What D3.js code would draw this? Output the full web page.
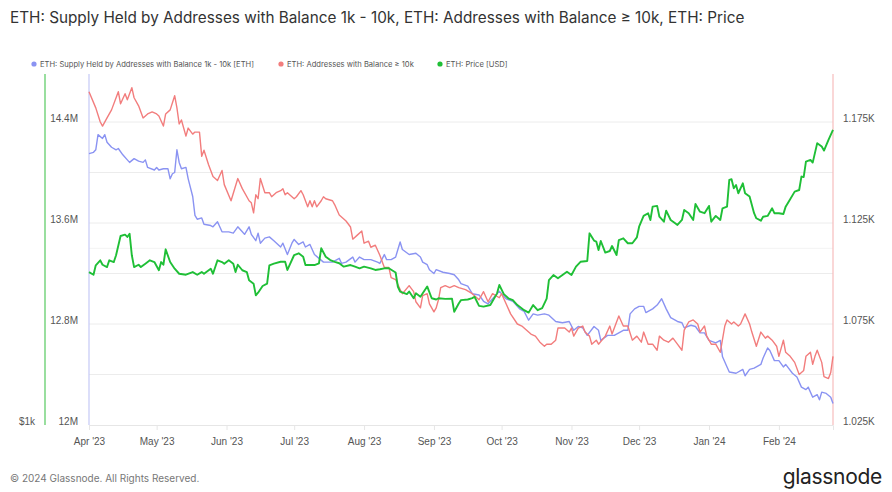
<!DOCTYPE html>
<html>
<head>
<meta charset="utf-8">
<script src="https://cdn.jsdelivr.net/npm/d3@7"></script>
<style>
	body { margin: 0; background: #fff; }
	svg { font-family: Inter, 'Open Sans', sans-serif; }
	.tick text { fill: #555; font-size: 10px; }
</style>
</head>
<body>
<div id="chart"></div>
<script>
// supply held by 1k-10k addresses, millions of ETH
const supply1k10k = [
	['2023-04-01', 14.15], ['2023-04-03', 14.16], ['2023-04-04', 14.18], ['2023-04-05', 14.30], ['2023-04-07', 14.27],
	['2023-04-08', 14.30], ['2023-04-09', 14.24], ['2023-04-11', 14.20], ['2023-04-13', 14.18], ['2023-04-14', 14.19],
	['2023-04-16', 14.14], ['2023-04-18', 14.10], ['2023-04-19', 14.08], ['2023-04-21', 14.11], ['2023-04-23', 14.09],
	['2023-04-25', 14.08], ['2023-04-26', 14.10], ['2023-04-27', 14.04], ['2023-04-30', 14.02], ['2023-05-01', 14.04],
	['2023-05-02', 14.02], ['2023-05-04', 14.03], ['2023-05-06', 14.03], ['2023-05-07', 13.95], ['2023-05-08', 13.99],
	['2023-05-09', 14.00], ['2023-05-10', 14.18], ['2023-05-11', 14.08], ['2023-05-12', 14.03], ['2023-05-14', 14.04],
	['2023-05-15', 13.95], ['2023-05-17', 13.81], ['2023-05-18', 13.66], ['2023-05-19', 13.63], ['2023-05-21', 13.64],
	['2023-05-22', 13.59], ['2023-05-25', 13.58], ['2023-05-26', 13.57], ['2023-05-28', 13.61], ['2023-05-30', 13.53],
	['2023-06-02', 13.53], ['2023-06-04', 13.52], ['2023-06-06', 13.57], ['2023-06-08', 13.53], ['2023-06-09', 13.51],
	['2023-06-11', 13.57], ['2023-06-12', 13.51], ['2023-06-14', 13.46], ['2023-06-15', 13.52], ['2023-06-16', 13.44],
	['2023-06-18', 13.48], ['2023-06-20', 13.49], ['2023-06-22', 13.46], ['2023-06-25', 13.41], ['2023-06-26', 13.44],
	['2023-06-28', 13.35], ['2023-06-30', 13.44], ['2023-07-01', 13.47], ['2023-07-03', 13.43], ['2023-07-05', 13.45],
	['2023-07-06', 13.41], ['2023-07-08', 13.43], ['2023-07-10', 13.35], ['2023-07-12', 13.32], ['2023-07-14', 13.29],
	['2023-07-16', 13.29], ['2023-07-18', 13.29], ['2023-07-21', 13.32], ['2023-07-22', 13.28], ['2023-07-24', 13.29],
	['2023-07-27', 13.33], ['2023-07-28', 13.29], ['2023-07-30', 13.33], ['2023-08-01', 13.31], ['2023-08-04', 13.31],
	['2023-08-07', 13.29], ['2023-08-08', 13.28], ['2023-08-10', 13.35], ['2023-08-11', 13.31], ['2023-08-13', 13.31],
	['2023-08-15', 13.33], ['2023-08-17', 13.45], ['2023-08-18', 13.39], ['2023-08-21', 13.35], ['2023-08-24', 13.36],
	['2023-08-26', 13.33], ['2023-08-27', 13.29], ['2023-08-29', 13.27], ['2023-08-30', 13.23], ['2023-09-01', 13.20],
	['2023-09-02', 13.23], ['2023-09-05', 13.21], ['2023-09-08', 13.20], ['2023-09-10', 13.19], ['2023-09-12', 13.15],
	['2023-09-13', 13.12], ['2023-09-16', 13.10], ['2023-09-18', 13.04], ['2023-09-21', 13.03], ['2023-09-23', 12.98],
	['2023-09-25', 12.96], ['2023-09-28', 13.02], ['2023-09-30', 13.06], ['2023-10-03', 13.00], ['2023-10-06', 12.98],
	['2023-10-09', 12.92], ['2023-10-11', 12.90], ['2023-10-13', 12.83], ['2023-10-15', 12.88], ['2023-10-17', 12.87],
	['2023-10-20', 12.88], ['2023-10-22', 12.87], ['2023-10-25', 12.82], ['2023-10-28', 12.81], ['2023-10-31', 12.82],
	['2023-11-02', 12.75], ['2023-11-04', 12.78], ['2023-11-06', 12.77], ['2023-11-08', 12.71], ['2023-11-11', 12.78],
	['2023-11-13', 12.75], ['2023-11-14', 12.67], ['2023-11-17', 12.71], ['2023-11-20', 12.71], ['2023-11-22', 12.73],
	['2023-11-24', 12.75], ['2023-11-26', 12.75], ['2023-11-27', 12.88], ['2023-11-29', 12.92], ['2023-12-01', 12.94],
	['2023-12-03', 12.94], ['2023-12-04', 12.89], ['2023-12-07', 12.92], ['2023-12-09', 12.95], ['2023-12-11', 13.00],
	['2023-12-13', 12.92], ['2023-12-15', 12.85], ['2023-12-18', 12.82], ['2023-12-20', 12.81], ['2023-12-21', 12.77],
	['2023-12-24', 12.79], ['2023-12-26', 12.78], ['2023-12-28', 12.73], ['2023-12-30', 12.73], ['2024-01-01', 12.67],
	['2024-01-04', 12.65], ['2024-01-06', 12.67], ['2024-01-07', 12.54], ['2024-01-09', 12.46], ['2024-01-10', 12.42],
	['2024-01-13', 12.41], ['2024-01-16', 12.44], ['2024-01-17', 12.39], ['2024-01-19', 12.44], ['2024-01-21', 12.45],
	['2024-01-24', 12.48], ['2024-01-25', 12.53], ['2024-01-27', 12.61], ['2024-01-28', 12.59], ['2024-01-30', 12.51],
	['2024-02-01', 12.51], ['2024-02-03', 12.46], ['2024-02-04', 12.48], ['2024-02-07', 12.41], ['2024-02-09', 12.38],
	['2024-02-11', 12.30], ['2024-02-13', 12.28], ['2024-02-14', 12.30], ['2024-02-16', 12.22], ['2024-02-18', 12.24],
	['2024-02-19', 12.20], ['2024-02-20', 12.26], ['2024-02-22', 12.25], ['2024-02-24', 12.22], ['2024-02-25', 12.17]
]

// number of addresses holding >= 10k ETH
const addresses10k = [
	['2023-04-01', 1190], ['2023-04-04', 1182], ['2023-04-06', 1175], ['2023-04-07', 1173], ['2023-04-09', 1177],
	['2023-04-11', 1181], ['2023-04-14', 1190], ['2023-04-15', 1184], ['2023-04-17', 1189], ['2023-04-18', 1186],
	['2023-04-20', 1192], ['2023-04-21', 1187], ['2023-04-23', 1183], ['2023-04-25', 1177], ['2023-04-27', 1179],
	['2023-04-29', 1180], ['2023-05-01', 1179], ['2023-05-02', 1178], ['2023-05-04', 1173], ['2023-05-05', 1179],
	['2023-05-07', 1181], ['2023-05-09', 1188], ['2023-05-10', 1182], ['2023-05-11', 1174], ['2023-05-12', 1176],
	['2023-05-14', 1168], ['2023-05-15', 1172], ['2023-05-17', 1169], ['2023-05-18', 1170], ['2023-05-20', 1170],
	['2023-05-21', 1158], ['2023-05-22', 1161], ['2023-05-24', 1154], ['2023-05-26', 1148], ['2023-05-28', 1146],
	['2023-05-30', 1151], ['2023-05-31', 1144], ['2023-06-03', 1136], ['2023-06-06', 1147], ['2023-06-08', 1142],
	['2023-06-11', 1136], ['2023-06-12', 1135], ['2023-06-13', 1130], ['2023-06-14', 1139], ['2023-06-15', 1137],
	['2023-06-16', 1147], ['2023-06-18', 1140], ['2023-06-20', 1140], ['2023-06-21', 1138], ['2023-06-23', 1140],
	['2023-06-25', 1141], ['2023-06-26', 1142], ['2023-06-27', 1139], ['2023-06-28', 1140], ['2023-07-01', 1137],
	['2023-07-02', 1138], ['2023-07-04', 1141], ['2023-07-05', 1139], ['2023-07-07', 1133], ['2023-07-08', 1136],
	['2023-07-09', 1133], ['2023-07-10', 1136], ['2023-07-11', 1133], ['2023-07-13', 1136], ['2023-07-14', 1138],
	['2023-07-15', 1137], ['2023-07-18', 1136], ['2023-07-19', 1134], ['2023-07-21', 1129], ['2023-07-23', 1127],
	['2023-07-24', 1126], ['2023-07-26', 1123], ['2023-07-27', 1117], ['2023-07-29', 1119], ['2023-07-31', 1121],
	['2023-08-01', 1115], ['2023-08-03', 1116], ['2023-08-04', 1113], ['2023-08-06', 1114], ['2023-08-08', 1109],
	['2023-08-10', 1103], ['2023-08-12', 1103], ['2023-08-13', 1098], ['2023-08-15', 1097], ['2023-08-17', 1092],
	['2023-08-18', 1090], ['2023-08-21', 1094], ['2023-08-23', 1091], ['2023-08-24', 1086], ['2023-08-26', 1083],
	['2023-08-27', 1089], ['2023-08-29', 1090], ['2023-08-30', 1085], ['2023-09-01', 1081], ['2023-09-02', 1083],
	['2023-09-03', 1087], ['2023-09-04', 1093], ['2023-09-06', 1094], ['2023-09-08', 1093], ['2023-09-10', 1094],
	['2023-09-12', 1093], ['2023-09-15', 1092], ['2023-09-18', 1090], ['2023-09-21', 1087], ['2023-09-23', 1091],
	['2023-09-25', 1086], ['2023-09-27', 1090], ['2023-09-30', 1088], ['2023-10-01', 1090], ['2023-10-03', 1085],
	['2023-10-05', 1080], ['2023-10-08', 1075], ['2023-10-10', 1074], ['2023-10-12', 1072], ['2023-10-14', 1070],
	['2023-10-16', 1069], ['2023-10-18', 1066], ['2023-10-20', 1064], ['2023-10-21', 1065], ['2023-10-23', 1065],
	['2023-10-25', 1067], ['2023-10-26', 1073], ['2023-10-29', 1073], ['2023-10-31', 1071], ['2023-11-01', 1073],
	['2023-11-02', 1069], ['2023-11-04', 1073], ['2023-11-06', 1074], ['2023-11-07', 1071], ['2023-11-09', 1069],
	['2023-11-10', 1065], ['2023-11-12', 1067], ['2023-11-13', 1065], ['2023-11-16', 1069], ['2023-11-18', 1074],
	['2023-11-19', 1070], ['2023-11-22', 1079], ['2023-11-24', 1074], ['2023-11-26', 1074], ['2023-11-28', 1067],
	['2023-11-30', 1069], ['2023-12-02', 1066], ['2023-12-03', 1071], ['2023-12-05', 1065], ['2023-12-07', 1065],
	['2023-12-09', 1062], ['2023-12-10', 1069], ['2023-12-12', 1067], ['2023-12-14', 1066], ['2023-12-16', 1068],
	['2023-12-18', 1065], ['2023-12-20', 1062], ['2023-12-21', 1072], ['2023-12-23', 1076], ['2023-12-25', 1077],
	['2023-12-27', 1075], ['2023-12-28', 1071], ['2023-12-30', 1074], ['2023-12-31', 1069], ['2024-01-02', 1065],
	['2024-01-04', 1065], ['2024-01-06', 1061], ['2024-01-08', 1074], ['2024-01-09', 1077], ['2024-01-11', 1075],
	['2024-01-12', 1076], ['2024-01-14', 1074], ['2024-01-15', 1075], ['2024-01-17', 1080], ['2024-01-19', 1075],
	['2024-01-20', 1071], ['2024-01-22', 1064], ['2024-01-24', 1071], ['2024-01-26', 1068], ['2024-01-27', 1069],
	['2024-01-29', 1067], ['2024-01-31', 1064], ['2024-02-01', 1059], ['2024-02-03', 1067], ['2024-02-04', 1061],
	['2024-02-06', 1059], ['2024-02-08', 1056], ['2024-02-10', 1050], ['2024-02-12', 1052], ['2024-02-13', 1059],
	['2024-02-15', 1061], ['2024-02-16', 1055], ['2024-02-17', 1059], ['2024-02-18', 1062], ['2024-02-20', 1056],
	['2024-02-21', 1049], ['2024-02-23', 1048], ['2024-02-24', 1051], ['2024-02-25', 1059]
]

// ETH price, USD
const ethPrice = [
	['2023-04-01', 1822], ['2023-04-03', 1803], ['2023-04-04', 1871], ['2023-04-06', 1908], ['2023-04-07', 1875],
	['2023-04-09', 1858], ['2023-04-10', 1908], ['2023-04-12', 1895], ['2023-04-13', 1946], ['2023-04-15', 2099],
	['2023-04-17', 2110], ['2023-04-18', 2091], ['2023-04-19', 2118], ['2023-04-20', 1946], ['2023-04-21', 1858],
	['2023-04-23', 1875], ['2023-04-24', 1858], ['2023-04-26', 1883], ['2023-04-28', 1908], ['2023-04-30', 1895],
	['2023-05-02', 1835], ['2023-05-03', 1895], ['2023-05-04', 1875], ['2023-05-05', 1992], ['2023-05-07', 1895],
	['2023-05-09', 1846], ['2023-05-11', 1810], ['2023-05-14', 1803], ['2023-05-17', 1822], ['2023-05-19', 1803],
	['2023-05-21', 1822], ['2023-05-22', 1810], ['2023-05-25', 1846], ['2023-05-26', 1810], ['2023-05-28', 1908],
	['2023-05-30', 1895], ['2023-05-31', 1883], ['2023-06-02', 1908], ['2023-06-04', 1883], ['2023-06-05', 1822],
	['2023-06-06', 1875], ['2023-06-08', 1835], ['2023-06-10', 1822], ['2023-06-11', 1764], ['2023-06-13', 1741],
	['2023-06-14', 1663], ['2023-06-15', 1680], ['2023-06-17', 1725], ['2023-06-19', 1741], ['2023-06-20', 1871],
	['2023-06-22', 1883], ['2023-06-25', 1897], ['2023-06-27', 1897], ['2023-06-28', 1837], ['2023-07-01', 1948],
	['2023-07-03', 1961], ['2023-07-05', 1935], ['2023-07-06', 1873], ['2023-07-08', 1873], ['2023-07-10', 1873],
	['2023-07-12', 1886], ['2023-07-13', 2000], ['2023-07-15', 1935], ['2023-07-17', 1910], ['2023-07-19', 1897],
	['2023-07-21', 1886], ['2023-07-23', 1861], ['2023-07-26', 1873], ['2023-07-28', 1861], ['2023-07-30', 1849],
	['2023-08-01', 1861], ['2023-08-04', 1849], ['2023-08-06', 1837], ['2023-08-08', 1842], ['2023-08-10', 1849],
	['2023-08-12', 1849], ['2023-08-15', 1819], ['2023-08-16', 1720], ['2023-08-17', 1687], ['2023-08-20', 1671],
	['2023-08-21', 1688], ['2023-08-23', 1644], ['2023-08-24', 1676], ['2023-08-26', 1654], ['2023-08-29', 1722],
	['2023-08-31', 1644], ['2023-09-02', 1636], ['2023-09-03', 1644], ['2023-09-06', 1640], ['2023-09-09', 1642],
	['2023-09-10', 1559], ['2023-09-12', 1611], ['2023-09-13', 1632], ['2023-09-16', 1636], ['2023-09-18', 1645],
	['2023-09-19', 1654], ['2023-09-21', 1596], ['2023-09-23', 1591], ['2023-09-26', 1601], ['2023-09-29', 1676],
	['2023-09-30', 1732], ['2023-10-02', 1671], ['2023-10-04', 1644], ['2023-10-06', 1632], ['2023-10-08', 1601],
	['2023-10-11', 1569], ['2023-10-13', 1554], ['2023-10-15', 1601], ['2023-10-17', 1569], ['2023-10-19', 1582],
	['2023-10-21', 1642], ['2023-10-22', 1766], ['2023-10-24', 1801], ['2023-10-26', 1778], ['2023-10-28', 1801],
	['2023-10-30', 1824], ['2023-11-01', 1801], ['2023-11-03', 1861], ['2023-11-05', 1897], ['2023-11-08', 1903],
	['2023-11-09', 2121], ['2023-11-11', 2062], ['2023-11-12', 2054], ['2023-11-13', 1987], ['2023-11-14', 2058],
	['2023-11-16', 1967], ['2023-11-18', 1979], ['2023-11-19', 2018], ['2023-11-21', 1948], ['2023-11-22', 2066],
	['2023-11-24', 2080], ['2023-11-26', 2040], ['2023-11-28', 2040], ['2023-11-30', 2087], ['2023-12-01', 2177],
	['2023-12-03', 2271], ['2023-12-05', 2295], ['2023-12-06', 2235], ['2023-12-07', 2355], ['2023-12-09', 2362],
	['2023-12-10', 2264], ['2023-12-12', 2220], ['2023-12-13', 2318], ['2023-12-15', 2235], ['2023-12-17', 2206],
	['2023-12-18', 2192], ['2023-12-20', 2235], ['2023-12-21', 2324], ['2023-12-23', 2295], ['2023-12-25', 2235],
	['2023-12-26', 2380], ['2023-12-28', 2309], ['2023-12-30', 2295], ['2024-01-01', 2362], ['2024-01-02', 2220],
	['2024-01-04', 2271], ['2024-01-06', 2235], ['2024-01-07', 2340], ['2024-01-09', 2355], ['2024-01-10', 2615],
	['2024-01-11', 2622], ['2024-01-12', 2531], ['2024-01-13', 2564], ['2024-01-14', 2482], ['2024-01-16', 2581],
	['2024-01-17', 2482], ['2024-01-19', 2450], ['2024-01-21', 2295], ['2024-01-22', 2250], ['2024-01-24', 2229],
	['2024-01-25', 2264], ['2024-01-27', 2271], ['2024-01-29', 2340], ['2024-01-30', 2295], ['2024-02-01', 2295],
	['2024-02-03', 2288], ['2024-02-04', 2355], ['2024-02-06', 2424], ['2024-02-08', 2498], ['2024-02-10', 2514],
	['2024-02-11', 2650], ['2024-02-12', 2645], ['2024-02-13', 2810], ['2024-02-15', 2829], ['2024-02-16', 2799],
	['2024-02-18', 3021], ['2024-02-20', 2981], ['2024-02-21', 2934], ['2024-02-23', 3061], ['2024-02-25', 3183]
]

const supplyTicks = [12, 12.4, 12.8, 13.2, 13.6, 14.0, 14.4]
const supplyLabels = [12, 12.8, 13.6, 14.4]
const addressTicks = [1025, 1075, 1125, 1175]
const priceTicks = [1000, 2000]
const monthTicks = ['2023-04-01', '2023-05-01', '2023-06-01', '2023-07-01', '2023-08-01', '2023-09-01',
	'2023-10-01', '2023-11-01', '2023-12-01', '2024-01-01', '2024-02-01']

const series = [
	{ name: 'ETH: Supply Held by Addresses with Balance 1k - 10k [ETH]', color: '#8a93f2', data: supply1k10k, axis: 'supply' },
	{ name: 'ETH: Addresses with Balance \u2265 10k', color: '#f27d7d', data: addresses10k, axis: 'addresses' },
	{ name: 'ETH: Price [USD]', color: '#1fbf36', data: ethPrice, axis: 'price' }
]

const width = 892, height = 492
const plot = { left: 89, right: 833, top: 74, bottom: 425 }
const parse = d3.timeParse('%Y-%m-%d')

const svg = d3.select('#chart').append('svg')
	.attr('width', width).attr('height', height)

const x = d3.scaleUtc()
	.domain([parse(supply1k10k[0][0]), parse(supply1k10k[supply1k10k.length - 1][0])])
	.range([plot.left, plot.right])

const scales = {
	supply: d3.scaleLinear().domain([12, 14.4]).range([plot.bottom, 122]),
	addresses: d3.scaleLinear().domain([1025, 1175]).range([plot.bottom, 122]),
	price: d3.scaleLog().domain([1000, 2000]).range([plot.bottom, 248.3])
}

svg.append('text')
	.attr('x', 10).attr('y', 23)
	.style('font-size', '15.3px').style('fill', '#333')
	.text('ETH: Supply Held by Addresses with Balance 1k - 10k, ETH: Addresses with Balance \u2265 10k, ETH: Price')

// legend
let legendX = [34, 281, 440]
let legend = svg.append('g').selectAll('g')
	.data(series)
	.enter()
	.append('g')
	.attr('transform', (d, i) => `translate(${legendX[i]}, 64)`)
legend.append('circle').attr('r', 2.6).style('fill', d => d.color)
legend.append('text')
	.attr('x', 6).attr('dy', '0.35em')
	.style('font-size', '7.6px').style('fill', '#555')
	.text(d => d.name)

// grid
svg.append('g').selectAll('line')
	.data(supplyTicks.slice(1))
	.enter()
	.append('line')
	.attr('x1', plot.left).attr('x2', plot.right)
	.attr('y1', d => scales.supply(d)).attr('y2', d => scales.supply(d))
	.style('stroke', '#ececec')
svg.append('g').selectAll('line')
	.data(priceTicks.slice(1))
	.enter()
	.append('line')
	.attr('x1', plot.left).attr('x2', plot.right)
	.attr('y1', d => scales.price(d)).attr('y2', d => scales.price(d))
	.style('stroke', '#f3f3f3')

// bottom axis
let xAxis = svg.append('g')
	.attr('transform', `translate(0, ${plot.bottom})`)
	.call(d3.axisBottom(x)
		.tickValues(monthTicks.map(parse))
		.tickFormat(d3.utcFormat("%b '%y"))
		.tickSize(5).tickPadding(8))
xAxis.select('.domain').style('stroke', '#e6e6e6')
xAxis.selectAll('.tick line').style('stroke', '#e6e6e6')

// left supply axis
let supplyAxis = svg.append('g')
	.attr('transform', `translate(${plot.left - 11}, 0)`)
	.call(d3.axisLeft(scales.supply)
		.tickValues(supplyLabels)
		.tickFormat(d => d3.format('.1f')(d).replace('.0', '') + 'M')
		.tickSize(0).tickPadding(0))
supplyAxis.select('.domain').remove()
supplyAxis.selectAll('.tick text').attr('dy', '-0.1em')

// far left price axis
let priceAxis = svg.append('g')
	.attr('transform', `translate(${35}, 0)`)
	.call(d3.axisLeft(scales.price)
		.tickValues(priceTicks.slice(0, 1))
		.tickFormat(d => '$' + d / 1000 + 'k')
		.tickSize(0).tickPadding(0))
priceAxis.select('.domain').remove()
priceAxis.selectAll('.tick text').attr('dy', '-0.1em')

// right address axis
let addressAxis = svg.append('g')
	.attr('transform', `translate(${plot.right + 10}, 0)`)
	.call(d3.axisRight(scales.addresses)
		.tickValues(addressTicks)
		.tickFormat(d => d3.format('.3f')(d / 1000) + 'K')
		.tickSize(0).tickPadding(0))
addressAxis.select('.domain').remove()
addressAxis.selectAll('.tick text').attr('dy', '-0.1em')

// coloured axis rules
let rules = [
	{ x: 45, color: '#55c95f' },
	{ x: plot.left, color: '#c5c9f6' },
	{ x: plot.right, color: '#f7bcbc' }
]
svg.append('g').selectAll('line')
	.data(rules)
	.enter()
	.append('line')
	.attr('x1', d => d.x).attr('x2', d => d.x)
	.attr('y1', plot.top).attr('y2', plot.bottom)
	.style('stroke', d => d.color)
	.style('stroke-width', 1.2)

// series
svg.append('g').selectAll('path')
	.data(series)
	.enter()
	.append('path')
	.attr('d', s => d3.line()
		.x(d => x(parse(d[0])))
		.y(d => scales[s.axis](d[1]))(s.data))
	.style('fill', 'none')
	.style('stroke', s => s.color)
	.style('stroke-width', s => s.axis == 'price' ? 1.9 : 1.4)
	.style('stroke-linejoin', 'round')

svg.append('text')
	.attr('x', 10).attr('y', 482)
	.style('font-size', '10px').style('fill', '#777')
	.text('\u00a9 2024 Glassnode. All Rights Reserved.')

svg.append('text')
	.attr('x', 882).attr('y', 484)
	.attr('text-anchor', 'end')
	.style('font-size', '21px').style('fill', '#222').style('letter-spacing', '-0.3px')
	.text('glassnode')
</script>
</body>
</html>
